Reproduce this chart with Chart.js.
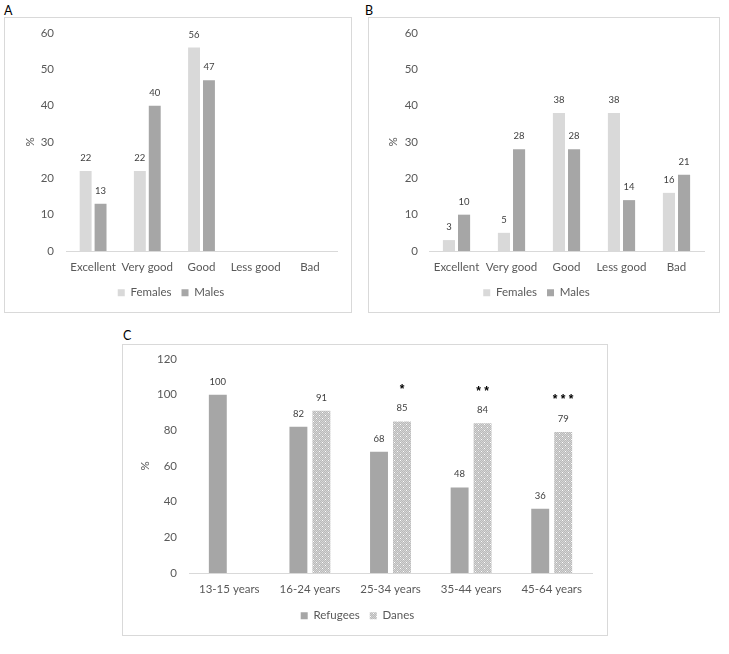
<!DOCTYPE html>
<html>
<head>
<meta charset="utf-8">
<script src="https://cdn.jsdelivr.net/npm/chart.js@4/dist/chart.umd.min.js"></script>
<style>
    body { margin: 0; background: #fff; font-family: Lato, sans-serif; }
    .panel { position: absolute; box-sizing: border-box; border: 1px solid #d9d9d9; }
    .panel canvas { display: block; }
    .tag { position: absolute; font-size: 12.5px; color: #000; }
</style>
</head>
<body>
<div class="tag" style="left:4px; top:3px;">A</div>
<div class="tag" style="left:365px; top:3px;">B</div>
<div class="tag" style="left:123px; top:328px;">C</div>

<div class="panel" style="left:4px; top:17px; width:348px; height:296px;">
    <canvas id="chart-a" width="346" height="294"></canvas>
</div>
<div class="panel" style="left:368px; top:17px; width:352px; height:296px;">
    <canvas id="chart-b" width="350" height="294"></canvas>
</div>
<div class="panel" style="left:122px; top:344px; width:486px; height:292px;">
    <canvas id="chart-c" width="484" height="290"></canvas>
</div>

<script>
// Data
const healthCategories = ['Excellent', 'Very good', 'Good', 'Less good', 'Bad'];
const femalesA = [22, 22, 56, null, null];
const malesA = [13, 40, 47, null, null];
const femalesB = [3, 5, 38, 38, 16];
const malesB = [10, 28, 28, 14, 21];

const ageGroups = ['13-15 years', '16-24 years', '25-34 years', '35-44 years', '45-64 years'];
const refugees = [100, 82, 68, 48, 36];
const danes = [null, 91, 85, 84, 79];
const significance = ['', '', '*', '**', '***'];

const TEXT = '#595959';
const LIGHT = '#d9d9d9';
const DARK = '#a6a6a6';

// dotted fill used for the Danes bars
function makeDotPattern() {
    const c = document.createElement('canvas');
    c.width = 6;
    c.height = 6;
    const g = c.getContext('2d');
    for (let y = 0; y < 6; y++) {
        for (let x = 0; x < 6; x++) {
            g.fillStyle = (x + y) % 2 ? '#bababa' : '#d4d4d4';
            g.fillRect(x, y, 1, 1);
        }
    }
    g.fillStyle = '#ffffff';
    g.fillRect(1, 1, 1, 1);
    g.fillRect(4, 4, 1, 1);
    return g.createPattern(c, 'repeat');
}

// value labels (and significance stars) above the bars
const barLabels = {
    id: 'barLabels',
    afterDatasetsDraw(chart, args, opts) {
        const ctx = chart.ctx;
        ctx.save();
        ctx.textAlign = 'center';
        ctx.textBaseline = 'middle';
        chart.data.datasets.forEach((ds, di) => {
            const meta = chart.getDatasetMeta(di);
            meta.data.forEach((bar, i) => {
                const v = ds.data[i];
                if (v === null || v === undefined) return;
                ctx.font = '9.5px Lato';
                ctx.fillStyle = '#404040';
                ctx.fillText(v, bar.x, bar.y - 13);
                if (opts.stars && di === opts.starsOn && opts.stars[i]) {
                    ctx.font = 'bold 12px "Liberation Sans"';
                    ctx.fillStyle = '#000';
                    ctx.fillText(opts.stars[i].split('').join(' '), bar.x, bar.y - 32);
                }
            });
        });
        ctx.restore();
    }
};

function makeChart(id, labels, datasets, cfg) {
    const ctx = document.getElementById(id).getContext('2d');
    return new Chart(ctx, {
        type: 'bar',
        data: { labels: labels, datasets: datasets },
        plugins: [barLabels],
        options: {
            responsive: false,
            animation: false,
            devicePixelRatio: 1,
            categoryPercentage: cfg.catPct,
            barPercentage: cfg.barPct,
            layout: { padding: { top: cfg.top, right: cfg.right, left: 0, bottom: 3.5 } },
            scales: {
                x: {
                    grid: { display: false, drawTicks: false },
                    border: { display: true, color: LIGHT, width: 1 },
                    ticks: { color: TEXT, font: { family: 'Lato', size: 11.5 }, padding: 9, maxRotation: 0, autoSkip: false },
                    afterFit: scale => { scale.height = cfg.xHeight; }
                },
                y: {
                    min: 0,
                    max: cfg.max,
                    grid: { display: false, drawTicks: false },
                    border: { display: false },
                    ticks: { stepSize: cfg.step, color: TEXT, font: { family: 'Lato', size: 11.5 }, padding: cfg.tickPad },
                    title: { display: true, text: '%', color: TEXT, font: { family: 'Lato', size: 11.5 }, padding: { top: cfg.titlePad, bottom: 0 } },
                    afterFit: scale => {
                        scale.width = cfg.yWidth;
                        scale.paddingTop = 0;
                        scale.paddingBottom = 0;
                    }
                }
            },
            plugins: {
                legend: {
                    position: 'bottom',
                    labels: { boxWidth: 7, boxHeight: 7, padding: 10, color: TEXT, font: { family: 'Lato', size: 11.5 } }
                },
                tooltip: { enabled: false },
                barLabels: { stars: cfg.stars, starsOn: 1 }
            }
        }
    });
}

document.addEventListener('DOMContentLoaded', function() {
    makeChart('chart-a', healthCategories, [
        { label: 'Females', data: femalesA, backgroundColor: LIGHT },
        { label: 'Males', data: malesA, backgroundColor: DARK }
    ], { max: 60, step: 10, top: 15, right: 14, yWidth: 61, xHeight: 26, tickPad: 12, titlePad: 18, catPct: 0.55, barPct: 0.8 });

    makeChart('chart-b', healthCategories, [
        { label: 'Females', data: femalesB, backgroundColor: LIGHT },
        { label: 'Males', data: malesB, backgroundColor: DARK }
    ], { max: 60, step: 10, top: 15, right: 15, yWidth: 60, xHeight: 26, tickPad: 11, titlePad: 17, catPct: 0.55, barPct: 0.8 });

    makeChart('chart-c', ageGroups, [
        { label: 'Refugees', data: refugees, backgroundColor: DARK },
        { label: 'Danes', data: danes, backgroundColor: makeDotPattern() }
    ], { max: 120, step: 20, top: 14, right: 15, yWidth: 66, xHeight: 27, tickPad: 12, titlePad: 15, catPct: 0.57, barPct: 0.78, stars: significance });
});
</script>
</body>
</html>
